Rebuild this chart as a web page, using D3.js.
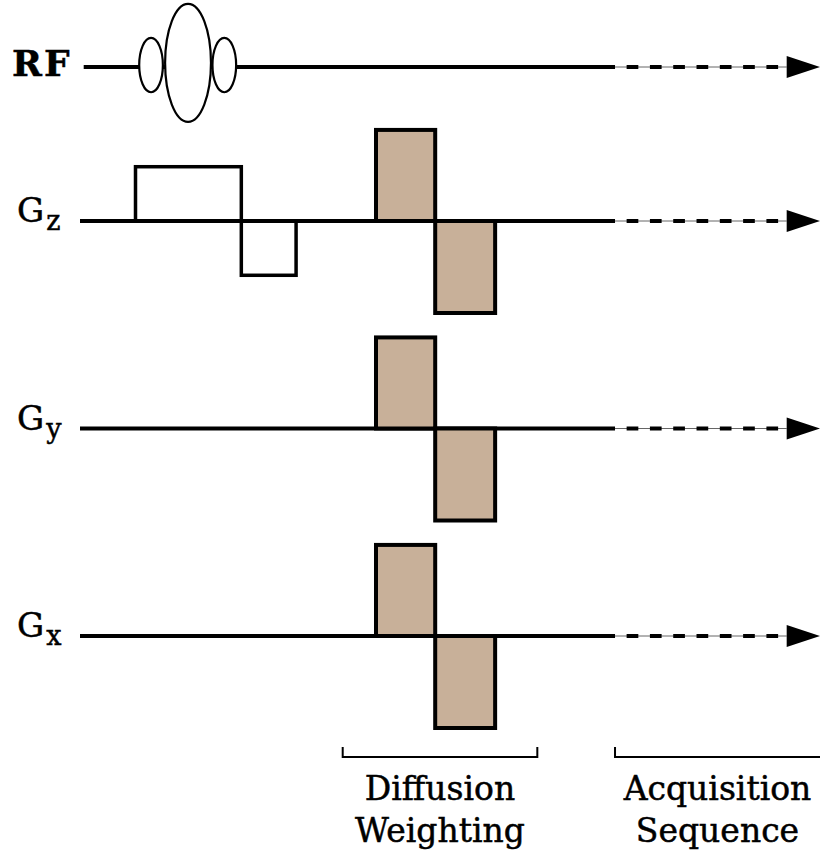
<!DOCTYPE html>
<html lang="en">
<head>
    <meta charset="UTF-8">
    <title>Diffusion-weighted pulse sequence</title>
    <script src="https://cdnjs.cloudflare.com/ajax/libs/d3/7.8.5/d3.min.js"></script>
    <style>
        body { margin: 0; background: #fff; }
        svg { display: block; }
        text { font-family: 'DejaVu Serif', serif; fill: #000; stroke: #000; stroke-width: 0.5px; }
    </style>
</head>
<body>
    <div id="wrapper"></div>
    <script>
        // channels, top to bottom
        const channels = ['RF', 'Gz', 'Gy', 'Gx']
        const channelNames = {
            RF: { main: 'RF', sub: '' },
            Gz: { main: 'G', sub: 'z' },
            Gy: { main: 'G', sub: 'y' },
            Gx: { main: 'G', sub: 'x' },
        }

        // time axis, arbitrary units
        const solidEnd = 72.3
        const arrowStart = 95.5
        const timeEnd = 100

        // RF excitation: center, half width, amplitude
        const rfLobes = [
            { t: 9.6, w: 1.6, amp: 0.46 },
            { t: 19.5, w: 1.6, amp: 0.46 },
            { t: 14.6, w: 3.1, amp: 1 },
        ]

        // gradient lobes: start, end, amplitude
        const gzLobes = [
            { start: 7.5, end: 21.8, amp: 0.59, diffusion: false },
            { start: 21.8, end: 29.2, amp: -0.59, diffusion: false },
            { start: 40, end: 48, amp: 0.99, diffusion: true },
            { start: 48, end: 56.1, amp: -1, diffusion: true },
        ]
        const gyLobes = [
            { start: 40, end: 48, amp: 0.99, diffusion: true },
            { start: 48, end: 56.1, amp: -1, diffusion: true },
        ]
        const gxLobes = [
            { start: 40, end: 48, amp: 0.99, diffusion: true },
            { start: 48, end: 56.1, amp: -1, diffusion: true },
        ]
        const gradientLobes = { Gz: gzLobes, Gy: gyLobes, Gx: gxLobes }

        // sections marked under the diagram
        const sections = [
            { lines: ['Diffusion', 'Weighting'], start: 35.5, end: 61.8 },
            { lines: ['Acquisition', 'Sequence'], start: 72.3, end: 101 },
        ]

        function drawSequence() {
            let dimensions = {
                width: 820,
                height: 861,
                margin: { left: 80, right: 0 },
            }

            const svg = d3.select('#wrapper')
                .append('svg')
                    .attr('width', dimensions.width)
                    .attr('height', dimensions.height)
                    .attr('viewBox', `0 0 ${dimensions.width} ${dimensions.height}`)

            // scales
            const xScale = d3.scaleLinear()
                .domain([0, timeEnd])
                .range([dimensions.margin.left, dimensions.width - dimensions.margin.right])

            const rowY = d3.scaleOrdinal()
                .domain(channels)
                .range([67, 221, 428.5, 636])

            const gradScale = d3.scaleLinear().domain([0, 1]).range([0, 92])
            const rfScale = d3.scaleLinear().domain([0, 1]).range([0, 59])

            const line = d3.line()

            const rows = svg.selectAll('.row')
                .data(channels)
                .join('g')
                    .attr('class', 'row')
                    .attr('transform', d => `translate(0, ${rowY(d)})`)

            // solid part of the time line
            rows.append('path')
                .attr('d', d => line([[xScale(d === 'RF' ? 0.5 : 0), 0], [xScale(solidEnd), 0]]))
                .attr('stroke', '#000')
                .attr('stroke-width', 4)
                .attr('fill', 'none')

            // thin line under the dashes
            rows.append('path')
                .attr('d', line([[xScale(solidEnd), 0], [xScale(arrowStart), 0]]))
                .attr('stroke', '#666')
                .attr('stroke-width', 1)

            rows.append('path')
                .attr('d', line([[xScale(solidEnd), 0], [xScale(arrowStart), 0]]))
                .attr('stroke', '#000')
                .attr('stroke-width', 4)
                .attr('stroke-dasharray', '0 11.6 11.7 0')

            // arrow head
            rows.append('path')
                .attr('d', line([[xScale(arrowStart), -11], [xScale(timeEnd), 0], [xScale(arrowStart), 11]]) + 'Z')
                .attr('fill', '#000')

            // labels
            const labels = rows.append('text')
                .attr('x', 12)

            labels.filter(d => d === 'RF')
                .attr('y', 9)
                .attr('font-size', 36)
                .attr('font-weight', 'bold')
                .attr('letter-spacing', 2)
                .text(d => channelNames[d].main)

            const gLabels = labels.filter(d => d !== 'RF')
                .attr('x', 17)
                .attr('y', 1)
                .attr('font-size', 34)

            gLabels.append('tspan')
                .text(d => channelNames[d].main)
            gLabels.append('tspan')
                .attr('dx', 2)
                .attr('dy', 8)
                .attr('font-size', 27)
                .text(d => channelNames[d].sub)

            // RF pulse lobes
            rows.filter(d => d === 'RF')
                .selectAll('ellipse')
                .data(rfLobes)
                .join('ellipse')
                    .attr('cx', d => xScale(d.t))
                    .attr('cy', d => -rfScale(d.amp) * 0.07)
                    .attr('rx', d => xScale(d.w) - xScale(0))
                    .attr('ry', d => rfScale(d.amp))
                    .attr('fill', '#fff')
                    .attr('stroke', '#000')
                    .attr('stroke-width', 2.2)

            // gradient lobes
            rows.filter(d => d !== 'RF')
                .selectAll('rect')
                .data(d => gradientLobes[d])
                .join('rect')
                    .attr('x', d => xScale(d.start))
                    .attr('width', d => xScale(d.end) - xScale(d.start))
                    .attr('y', d => d.amp > 0 ? -gradScale(d.amp) : 0)
                    .attr('height', d => gradScale(Math.abs(d.amp)))
                    .attr('fill', d => d.diffusion ? '#c8b099' : 'none')
                    .attr('stroke', '#000')
                    .attr('stroke-width', d => d.diffusion ? 4 : 3.5)

            // section brackets
            const bracketY = 757
            const sectionGroups = svg.selectAll('.section')
                .data(sections)
                .join('g')
                    .attr('class', 'section')

            sectionGroups.append('path')
                .attr('d', d => line([
                    [xScale(d.start), bracketY - 10],
                    [xScale(d.start), bracketY],
                    [xScale(d.end), bracketY],
                    [xScale(d.end), bracketY - 10],
                ]))
                .attr('fill', 'none')
                .attr('stroke', '#000')
                .attr('stroke-width', 2)

            sectionGroups.selectAll('text')
                .data(d => d.lines.map((l, i) => ({ text: l, i, x: (xScale(d.start) + xScale(Math.min(d.end, timeEnd))) / 2 })))
                .join('text')
                    .attr('x', d => d.x)
                    .attr('y', d => 800 + d.i * 42)
                    .attr('text-anchor', 'middle')
                    .attr('font-size', 33)
                    .text(d => d.text)
        }

        drawSequence()
    </script>
</body>
</html>
